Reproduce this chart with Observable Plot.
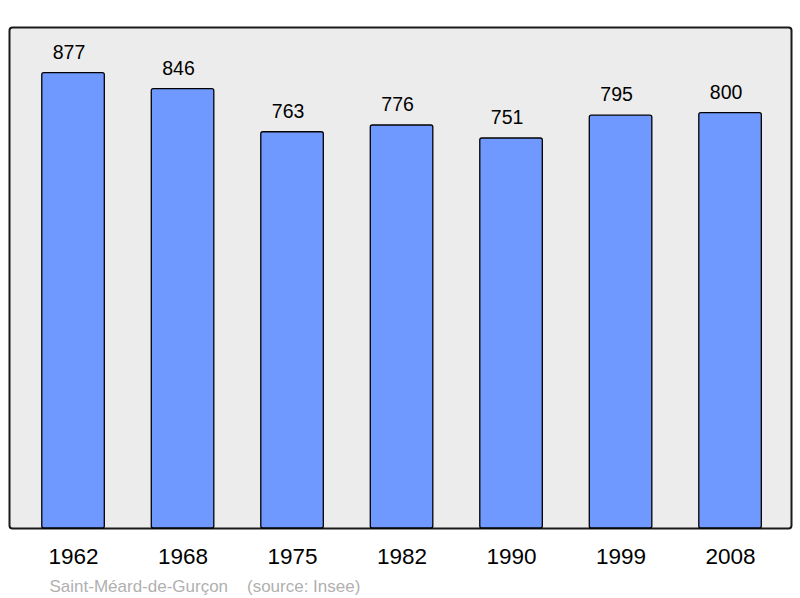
<!DOCTYPE html>
<html>
<head>
<meta charset="utf-8">
<script src="https://cdn.jsdelivr.net/npm/d3@7"></script>
<script src="https://cdn.jsdelivr.net/npm/@observablehq/plot@0.6"></script>
<style>
  html, body { margin: 0; padding: 0; background: #fff; }
  svg { display: block; }
</style>
</head>
<body>
<div id="chart"></div>
<script>
const years = ["1962", "1968", "1975", "1982", "1990", "1999", "2008"];
const population = [877, 846, 763, 776, 751, 795, 800];
const caption = "Saint-Méard-de-Gurçon\u00a0\u00a0\u00a0\u00a0(source: Insee)";

const data = years.map((y, i) => ({year: y, pop: population[i]}));
const yMax = d3.max(population) * 1.1;

const chart = Plot.plot({
  width: 800,
  height: 598,
  marginLeft: 9,
  marginRight: 9,
  marginTop: 27,
  marginBottom: 70,
  style: {fontFamily: "'Liberation Sans', Arial, sans-serif", background: "#fff"},
  x: {domain: years, range: [-5.2, 808.3], padding: 0.429, round: false, axis: null},
  y: {domain: [0, yMax], axis: null},
  marks: [
    Plot.frame({fill: "#ececec", stroke: "#1a1a1a", strokeWidth: 2, rx: 3}),
    Plot.barY(data, {x: "year", y: "pop", fill: "#7099ff", stroke: "#000", strokeWidth: 1.3, rx: 2}),
    Plot.text(data, {x: "year", y: "pop", text: d => String(d.pop), dx: -4.5, dy: -14.5, lineAnchor: "bottom", fontSize: 19.5, fill: "#000"}),
    Plot.axisX({domain: years, tickSize: 0, tickPadding: 20, fontSize: 22.5, fill: "#000", label: null}),
    Plot.text([caption], {frameAnchor: "bottom-left", text: d => d, dx: 40, dy: 63, lineAnchor: "bottom", textAnchor: "start", fontSize: 17, fill: "#b0b0b0"})
  ]
});
document.getElementById("chart").append(chart);
</script>
</body>
</html>
